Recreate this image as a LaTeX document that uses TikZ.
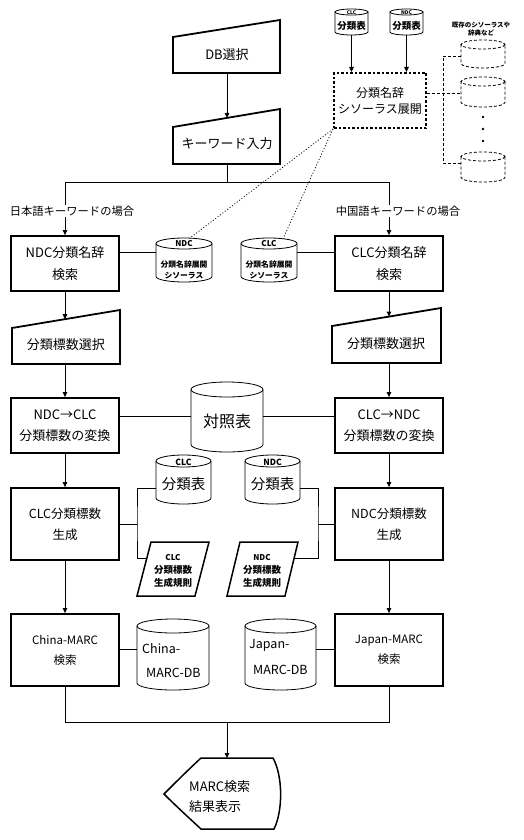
\documentclass[tikz,border=0pt]{standalone}
\usepackage{fontspec}
\setmainfont{Noto Sans CJK JP}
\usetikzlibrary{arrows.meta,fit}
\newcommand\fs[2]{\fontsize{#1}{#2}\selectfont}
\newcommand\mycyl[7]{%
  \path (#3,#4) coordinate (#2-nw) (#5,#6) coordinate (#2-se);
  \node[fit=(#2-nw)(#2-se), inner sep=0pt, outer sep=0pt] (#2) {};
  \draw[#1] ({(#3+#5)/2},{#4+#7}) ellipse ({(#5-#3)/2} and #7);
  \draw[#1] (#3,{#4+#7}) -- (#3,{#6-#7}) arc[start angle=180,end angle=0,x radius={(#5-#3)/2},y radius=#7] -- (#5,{#4+#7});
}
\tikzset{
  ln/.style={line width=0.8pt},
  thk/.style={line width=1.8pt, line join=miter},
  mid/.style={line width=1.5pt},
  dsh/.style={line width=0.8pt, dash pattern=on 3pt off 2pt},
  dot/.style={line width=0.8pt, dash pattern=on 1pt off 2pt},
  arr/.style={ln, -{Triangle[length=5pt,width=4.5pt]}},
  box/.style={draw, thk, align=center, inner sep=0pt, minimum width=108pt},
  txt/.style={align=center, inner sep=0pt},
}
\begin{document}
\begin{tikzpicture}[x=1pt,y=-1pt]
\useasboundingbox (0,0) rectangle (524,840);
\fill[white] (0,0) rectangle (524,840);

% ---------- top: DB selection, keyword input ----------
\draw[thk] (173,37) -- (280,20) -- (280,73) -- (173,73) -- cycle;
\node[txt, font=\fs{13}{16}] (db) at (227,55) {DB選択};
\coordinate (db-b) at (227,73);
\coordinate (kw-t) at (227,118);
\draw[thk] (173,127) -- (280,109) -- (280,164) -- (173,164) -- cycle;
\node[txt, font=\fs{13}{16}] (kw) at (227,144) {キーワード入力};
\coordinate (kw-b) at (227,164);
\draw[arr] (db-b) -- (kw-t);
\coordinate (split) at (227,182);
\coordinate (sl) at (65,182);
\coordinate (sr) at (389,182);
\draw[ln] (kw-b) -- (split);
\draw[ln] (sl) -- (sr);

% ---------- thesaurus box, top right ----------
\node[draw, line width=2pt, dash pattern=on 2.5pt off 2pt, minimum width=92pt, minimum height=55pt,
      align=center, inner sep=0pt, font=\fs{12}{16}] (thes) at (380,100.5) {分類名辞\\シソーラス展開};
\mycyl{ln}{clct0}{335}{9}{368}{35}{3}
\node[txt, font=\fs{5}{6}\bfseries] (clct0a) at (351.5,12.3) {CLC};
\node[txt, font=\fs{9.5}{10}\bfseries] (clct0b) at (351.5,25.5) {分類表};
\mycyl{ln}{ndct0}{390}{9}{423}{35}{3}
\node[txt, font=\fs{5}{6}\bfseries] (ndct0a) at (406.5,12.3) {NDC};
\node[txt, font=\fs{9.5}{10}\bfseries] (ndct0b) at (406.5,25.5) {分類表};
\draw[arr] (clct0.south) -- (thes.north -| clct0.south);
\draw[arr] (ndct0.south) -- (thes.north -| ndct0.south);

\node[txt, font=\fs{6.5}{8.5}\bfseries] (exlab) at (481,29) {既存のシソーラスや\\辞典など};
\mycyl{dsh}{ex1}{461}{40}{505}{68}{4.5}
\mycyl{dsh}{ex2}{461}{77}{505}{107}{4.5}
\mycyl{dsh}{ex3}{461}{152}{505}{182}{4.5}
\coordinate (dj) at (443,93);
\draw[dsh] (thes.east |- 0,93) -- (ex2.west |- 0,93);
\draw[dsh] (ex1.west |- 0,56) -| (dj) |- (ex3.west |- 0,163);
\fill (483,117) circle (1.3);
\fill (483,129) circle (1.3);
\fill (483,141) circle (1.3);

% ---------- row 2: name search ----------
\node[box, minimum height=55pt, font=\fs{13}{22}] (ndcs) at (65,263.5) {NDC分類名辞\\検索};
\node[box, minimum height=55pt, font=\fs{13}{22}] (clcs) at (389,263.5) {CLC分類名辞\\検索};
\draw[arr] (sl) -- (ndcs.north);
\draw[arr] (sr) -- (clcs.north);
\node[txt, fill=white, inner ysep=1pt, font=\fs{11.3}{13}] (jlab) at (72,211) {日本語キーワードの場合};
\node[txt, fill=white, inner ysep=1pt, font=\fs{11.3}{13}] (clab) at (398,211) {中国語キーワードの場合};

\mycyl{ln}{ndct}{156}{238}{212}{282}{5.5}
\node[txt, font=\fs{8}{9}\bfseries] (ndcta) at (184,243.5) {NDC};
\node[txt, font=\fs{7.8}{11}\bfseries] (ndctb) at (184,270) {分類名辞展開\\シソーラス};
\mycyl{ln}{clct}{241}{238}{297}{282}{5.5}
\node[txt, font=\fs{8}{9}\bfseries] (clcta) at (269,243.5) {CLC};
\node[txt, font=\fs{7.8}{11}\bfseries] (clctb) at (269,270) {分類名辞展開\\シソーラス};
\draw[ln] (ndcs.east |- 0,252) -- (ndct.west |- 0,252);
\draw[ln] (clct.east |- 0,252) -- (clcs.west |- 0,252);
\draw[dot] (thes.south west) -- ([xshift=6pt]ndct.north);
\draw[dot] (thes.south west) -- ([xshift=14pt,yshift=-0.7pt]clct.north);

% ---------- row 3: class number selection ----------
\draw[thk] (12,328) -- (120,310) -- (120,364) -- (12,364) -- cycle;
\node[txt, font=\fs{13}{16}] (sell) at (66,345) {分類標数選択};
\coordinate (sell-t) at (65,319.2);
\coordinate (sell-b) at (65,364);
\draw[thk] (332,326) -- (441,308) -- (441,363) -- (332,363) -- cycle;
\node[txt, font=\fs{13}{16}] (selr) at (386,344) {分類標数選択};
\coordinate (selr-t) at (389,316.6);
\coordinate (selr-b) at (389,363);
\draw[arr] (ndcs.south) -- (sell-t);
\draw[arr] (clcs.south) -- (selr-t);

% ---------- row 4: conversion ----------
\node[box, minimum height=55pt, font=\fs{13}{21}] (n2c) at (65,425.5) {NDC→CLC\\分類標数の変換};
\node[box, minimum height=55pt, font=\fs{13}{21}] (c2n) at (389,425.5) {CLC→NDC\\分類標数の変換};
\draw[arr] (sell-b) -- (n2c.north);
\draw[arr] (selr-b) -- (c2n.north);
\mycyl{ln}{taisho}{191}{382}{263}{452}{7.5}
\node[txt, font=\fs{16}{18}] (taishot) at (227,421) {対照表};
\draw[ln] (n2c.east |- 0,416) -- (taisho.west |- 0,416);
\draw[ln] (taisho.east |- 0,416) -- (c2n.west |- 0,416);

% ---------- row 5: generation ----------
\node[box, minimum height=72pt, font=\fs{12.5}{21}] (clcg) at (65,524) {CLC分類標数\\生成};
\node[box, minimum height=72pt, font=\fs{12.5}{21}] (ndcg) at (389,524) {NDC分類標数\\生成};
\draw[arr] (n2c.south) -- (clcg.north);
\draw[arr] (c2n.south) -- (ndcg.north);

\mycyl{ln}{clctab}{156}{455}{211}{504}{6}
\node[txt, font=\fs{8.5}{9}\bfseries] (clctaba) at (183.5,462) {CLC};
\node[txt, font=\fs{14.5}{16}] (clctabb) at (183.5,484) {分類表};
\mycyl{ln}{ndctab}{245}{455}{300}{504}{6}
\node[txt, font=\fs{8.5}{9}\bfseries] (ndctaba) at (272.5,462) {NDC};
\node[txt, font=\fs{14.5}{16}] (ndctabb) at (272.5,484) {分類表};

\draw[mid] (151,542) -- (209,542) -- (195,596) -- (137,596) -- cycle;
\node[txt, font=\fs{9.5}{13}\bfseries] (clcrule) at (173,570.5) {{\fs{8}{13}CLC}\\分類標数\\生成規則};
\coordinate (clcrule-l) at (147,558);
\draw[mid] (240,542) -- (298,542) -- (285,596) -- (227,596) -- cycle;
\node[txt, font=\fs{9.5}{13}\bfseries] (ndcrule) at (262,570.5) {{\fs{8}{13}NDC}\\分類標数\\生成規則};
\coordinate (ndcrule-r) at (294,558);

\coordinate (jl) at (137,524);
\coordinate (jr) at (318,524);
\draw[ln] (clcg.east) -- (jl);
\draw[ln] (clctab.west |- 0,488) -| (jl) |- (clcrule-l);
\draw[ln] (ndcg.west) -- (jr);
\draw[ln] (ndctab.east |- 0,488) -| (jr) |- (ndcrule-r);

% ---------- row 6: MARC search ----------
\node[box, minimum height=72pt, font=\fs{11.5}{20}] (chm) at (65,650) {China-MARC\\検索};
\node[box, minimum height=72pt, font=\fs{11.5}{20}] (jpm) at (389,650) {Japan-MARC\\検索};
\draw[arr] (clcg.south) -- (chm.north);
\draw[arr] (ndcg.south) -- (jpm.north);
\mycyl{ln}{chdb}{137}{619}{209}{690}{7}
\node[txt, anchor=west, font=\fs{12.5}{14}] (chdba) at (142,649) {China-};
\node[txt, anchor=west, font=\fs{12.5}{14}] (chdbb) at (146,673) {MARC-DB};
\mycyl{ln}{jpdb}{245}{619}{316}{690}{7}
\node[txt, anchor=west, font=\fs{12.5}{14}] (jpdba) at (249,645) {Japan-};
\node[txt, anchor=west, font=\fs{12.5}{14}] (jpdbb) at (253,670) {MARC-DB};
\draw[ln] (chm.east |- 0,649) -- (chdb.west |- 0,649);
\draw[ln] (jpdb.east |- 0,649) -- (jpm.west |- 0,649);

% ---------- bottom: result display ----------
\coordinate (bl) at (65,722);
\coordinate (br) at (389,722);
\coordinate (bm) at (227,722);
\draw[ln] (chm.south) -- (bl) -- (br) -- (jpm.south);
\draw[mid] (201,758) -- (273,758) .. controls (283,776) and (283,811) .. (274,829) -- (201,829)
   .. controls (188,817) and (176,806) .. (164,794) .. controls (176,782) and (188,770) .. (201,758) -- cycle;
\coordinate (disp-t) at (227,758);
\draw[arr] (bm) -- (disp-t);
\node[txt, align=left, anchor=west, font=\fs{13}{20}] (disp) at (189,797) {MARC検索\\結果表示};
\end{tikzpicture}
\end{document}
